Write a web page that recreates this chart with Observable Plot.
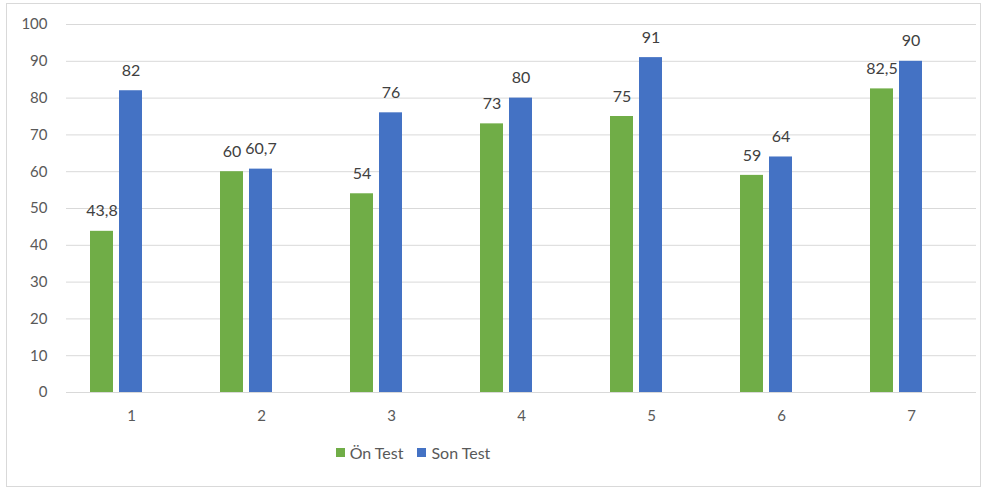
<!DOCTYPE html>
<html>
<head>
<meta charset="utf-8">
<script src="https://cdn.jsdelivr.net/npm/d3@7"></script>
<script src="https://cdn.jsdelivr.net/npm/@observablehq/plot@0.6"></script>
<style>
  html, body { margin: 0; padding: 0; background: #fff; }
  #frame { position: relative; width: 988px; height: 492px; font-family: Lato, "Noto Sans", sans-serif; }
  #border { position: absolute; left: 6px; top: 3px; width: 975px; height: 484px; border: 1px solid #d9d9d9; box-sizing: border-box; }
  #chart { position: absolute; left: 0; top: 0; }
  #legend { position: absolute; left: 0; top: 443px; width: 826px; display: flex; justify-content: center; gap: 14px; font-size: 16px; color: #595959; }
  .item { display: flex; align-items: center; gap: 5px; }
  .swatch { width: 9px; height: 9px; display: inline-block; }
</style>
</head>
<body>
<div id="frame">
  <div id="border"></div>
  <div id="chart"></div>
  <div id="legend"></div>
</div>
<script>
const categories = ["1", "2", "3", "4", "5", "6", "7"];
const series = ["Ön Test", "Son Test"];
const onTest = [43.8, 60, 54, 73, 75, 59, 82.5];
const sonTest = [82, 60.7, 76, 80, 91, 64, 90];
const colors = ["#70ad47", "#4472c4"];
const yTicks = [0, 10, 20, 30, 40, 50, 60, 70, 80, 90, 100];

const rows = categories.flatMap((c, i) => [
  {cat: c, series: series[0], value: onTest[i]},
  {cat: c, series: series[1], value: sonTest[i]}
]);

// decimal comma, as in the labels
const fmt = v => String(v).replace(".", ",");

const chart = Plot.plot({
  width: 988,
  height: 430,
  marginLeft: 66,
  marginRight: 12,
  marginTop: 24,
  marginBottom: 38,
  style: {fontFamily: "Lato, 'Noto Sans', sans-serif", fontSize: "15px", color: "#595959", background: "transparent"},
  fx: {domain: categories, padding: 0, label: null, tickSize: 0, tickPadding: 18},
  x: {domain: series, paddingInner: 0.19, paddingOuter: 1.32, align: 0.31, axis: null},
  y: {domain: [0, 100], label: null, ticks: yTicks, tickSize: 0, tickPadding: 19},
  color: {domain: series, range: colors},
  marks: [
    Plot.gridY(yTicks, {stroke: "#d9d9d9", strokeOpacity: 1, facet: "exclude"}),
    Plot.barY(rows, {fx: "cat", x: "series", y: "value", fill: "series"}),
    Plot.text(rows, {fx: "cat", x: "series", y: "value", text: d => fmt(d.value), dy: -20, fill: "#404040", fontSize: 16})
  ]
});
document.getElementById("chart").appendChild(chart);

const legend = document.getElementById("legend");
series.forEach((s, i) => {
  const item = document.createElement("span");
  item.className = "item";
  const sw = document.createElement("span");
  sw.className = "swatch";
  sw.style.background = colors[i];
  item.appendChild(sw);
  item.appendChild(document.createTextNode(s));
  legend.appendChild(item);
});
</script>
</body>
</html>
